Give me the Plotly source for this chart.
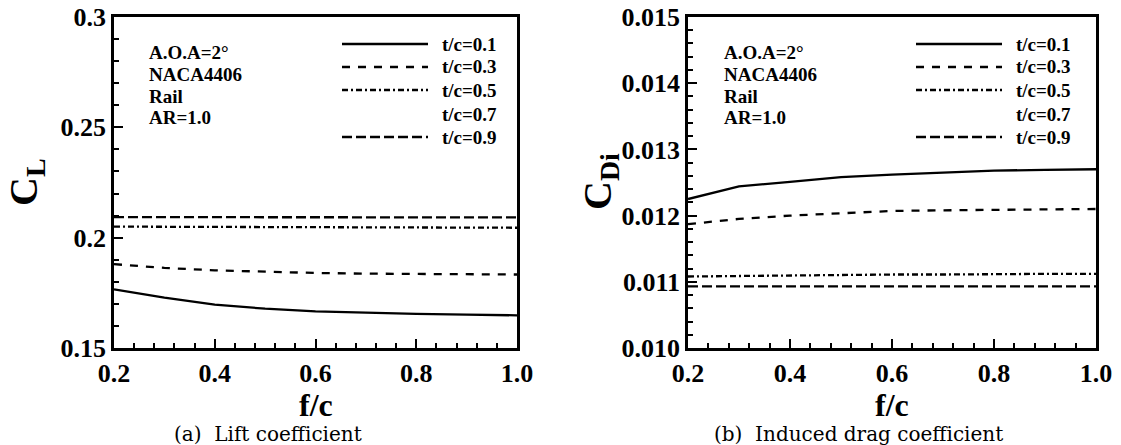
import plotly.graph_objects as go

# ---------------- data ----------------
fc = [0.2, 0.3, 0.4, 0.5, 0.6, 0.7, 0.8, 0.9, 1.0]
series_labels = ["t/c=0.1", "t/c=0.3", "t/c=0.5", "t/c=0.7", "t/c=0.9"]

cl_tc01 = [0.1766, 0.1728, 0.1697, 0.1678, 0.1666, 0.1659, 0.1655, 0.1651, 0.1648]
cl_tc03 = [0.1880, 0.1863, 0.1852, 0.1845, 0.1840, 0.1837, 0.1835, 0.1834, 0.1833]
cl_tc05 = [0.2050, 0.2049, 0.2048, 0.2047, 0.2046, 0.2046, 0.2045, 0.2045, 0.2045]
cl_tc07 = None  # no visible curve in the figure
cl_tc09 = [0.2093, 0.2093, 0.2092, 0.2092, 0.2092, 0.2092, 0.2092, 0.2092, 0.2092]

cdi_tc01 = [0.01225, 0.01244, 0.01251, 0.01258, 0.01262, 0.01265, 0.01268, 0.01269, 0.01270]
cdi_tc03 = [0.01187, 0.01195, 0.01200, 0.01204, 0.01207, 0.01208, 0.01209, 0.01210, 0.01210]
cdi_tc05 = [0.01108, 0.01109, 0.01110, 0.01110, 0.01111, 0.01111, 0.01112, 0.01112, 0.01112]
cdi_tc07 = None
cdi_tc09 = [0.01093, 0.01093, 0.01093, 0.01093, 0.01093, 0.01093, 0.01093, 0.01093, 0.01093]

info_lines = ["A.O.A=2°", "NACA4406", "Rail", "AR=1.0"]
x_range = [0.2, 1.0]
cl_range = [0.15, 0.3]
cdi_range = [0.010, 0.015]

# ---------------- styles ----------------
dashes = ["solid", "8px,8px", "6px,3px,2px,3px", None, "10px,4px"]
SERIF = "Liberation Serif, Times New Roman, Times, serif"

fig = go.Figure()

cl_series = [cl_tc01, cl_tc03, cl_tc05, cl_tc07, cl_tc09]
cdi_series = [cdi_tc01, cdi_tc03, cdi_tc05, cdi_tc07, cdi_tc09]

for lab, vals, d in zip(series_labels, cl_series, dashes):
    if vals is None:
        continue
    fig.add_trace(go.Scatter(x=fc, y=vals, mode="lines", name=lab, showlegend=False,
                             line=dict(color="black", width=2.3, dash=d),
                             xaxis="x", yaxis="y"))
for lab, vals, d in zip(series_labels, cdi_series, dashes):
    if vals is None:
        continue
    fig.add_trace(go.Scatter(x=fc, y=vals, mode="lines", name=lab, showlegend=False,
                             line=dict(color="black", width=2.3, dash=d),
                             xaxis="x2", yaxis="y2"))

W, H = 1121, 445
top, bottom = 17, 348
left_dom = [114 / W, 517 / W]
right_dom = [688 / W, 1096 / W]

tickfont = dict(family=SERIF, size=26, color="black", weight="bold")

def xaxis_cfg(dom, anchor):
    return dict(domain=dom, anchor=anchor, range=x_range, tickmode="linear",
                tick0=0.2, dtick=0.2,
                tickformat=".1f", ticks="inside", ticklen=9, tickwidth=2, tickcolor="black",
                showline=True, linecolor="black", linewidth=2.5, mirror=True,
                showgrid=False, zeroline=False, tickfont=tickfont,
                minor=dict(dtick=0.04, tick0=0.2, ticks="inside", ticklen=5,
                           tickwidth=1.5, tickcolor="black", showgrid=False),
                automargin=False)

def yaxis_cfg(anchor, rng, dt, fmt, mdt):
    return dict(domain=[0, 1], anchor=anchor, range=rng, tickmode="linear",
                tick0=rng[0], dtick=dt, tickformat=fmt,
                ticks="inside", ticklen=9, tickwidth=2, tickcolor="black",
                showline=True, linecolor="black", linewidth=2.5, mirror=True,
                showgrid=False, zeroline=False, tickfont=tickfont,
                minor=dict(dtick=mdt, tick0=rng[0], ticks="inside", ticklen=5,
                           tickwidth=1.5, tickcolor="black", showgrid=False),
                automargin=False)

fig.update_layout(
    width=W, height=H,
    margin=dict(l=0, r=0, t=top, b=H - bottom, pad=0),
    paper_bgcolor="white", plot_bgcolor="white",
    showlegend=False,
    font=dict(family=SERIF, color="black"),
    xaxis=xaxis_cfg(left_dom, "y"),
    yaxis=yaxis_cfg("x", cl_range, 0.05, "", 0.01),
    xaxis2=xaxis_cfg(right_dom, "y2"),
    yaxis2=yaxis_cfg("x2", cdi_range, 0.001, ".3f", 0.0002),
)

annotations = []
shapes = []
plot_h = bottom - top

def ydom(py):
    return (bottom - py) / plot_h

for xr, yr, x0px, x1px, info_x, ytitle, caption, title_x, cap_x in [
    ("x", "y", 114, 517, 147, "<b>C<sub>L</sub></b>", "(a)  Lift coefficient", 26, 268),
    ("x2", "y2", 688, 1096, 722, "<b>C<sub>Di</sub></b>", "(b)  Induced drag coefficient", 600, 858),
]:
    pw = x1px - x0px
    def xdom(px):
        return (px - x0px) / pw
    # info block
    for txt, py in zip(info_lines, [53, 74, 96, 117]):
        annotations.append(dict(text=f"<b>{txt}</b>", xref=f"{xr} domain", yref=f"{yr} domain",
                                x=xdom(info_x), y=ydom(py), xanchor="left", yanchor="middle",
                                showarrow=False,
                                font=dict(family=SERIF, size=19, color="black")))
    # legend
    lx0, lx1, tx = x0px + 228, x0px + 314, x0px + 326
    for lab, d, py in zip(series_labels, dashes, [44, 67, 90, 114, 137]):
        annotations.append(dict(text=f"<b>{lab}</b>", xref=f"{xr} domain", yref=f"{yr} domain",
                                x=xdom(tx), y=ydom(py), xanchor="left", yanchor="middle",
                                showarrow=False,
                                font=dict(family=SERIF, size=19, color="black")))
        if d is not None:
            shapes.append(dict(type="line", xref=f"{xr} domain", yref=f"{yr} domain",
                               x0=xdom(lx0), x1=xdom(lx1), y0=ydom(py), y1=ydom(py),
                               line=dict(color="black", width=2.3, dash=d)))
    # axis titles
    annotations.append(dict(text="<b>f/c</b>", xref=f"{xr} domain", yref=f"{yr} domain",
                            x=0.5, y=ydom(405), xanchor="center", yanchor="middle",
                            showarrow=False,
                            font=dict(family=SERIF, size=32, color="black")))
    annotations.append(dict(text=ytitle, xref=f"{xr} domain", yref=f"{yr} domain",
                            x=xdom(title_x), y=ydom(182), xanchor="center", yanchor="middle",
                            textangle=-90, showarrow=False,
                            font=dict(family=SERIF, size=40, color="black")))
    annotations.append(dict(text=caption, xref=f"{xr} domain", yref=f"{yr} domain",
                            x=xdom(cap_x), y=ydom(434), xanchor="center", yanchor="middle",
                            showarrow=False,
                            font=dict(family="DejaVu Serif", size=20, color="black")))

fig.update_layout(annotations=annotations, shapes=shapes)
fig.write_html("out.html", config={"displayModeBar": False},
               post_script="document.body.style.margin='0';document.body.style.padding='0';")
